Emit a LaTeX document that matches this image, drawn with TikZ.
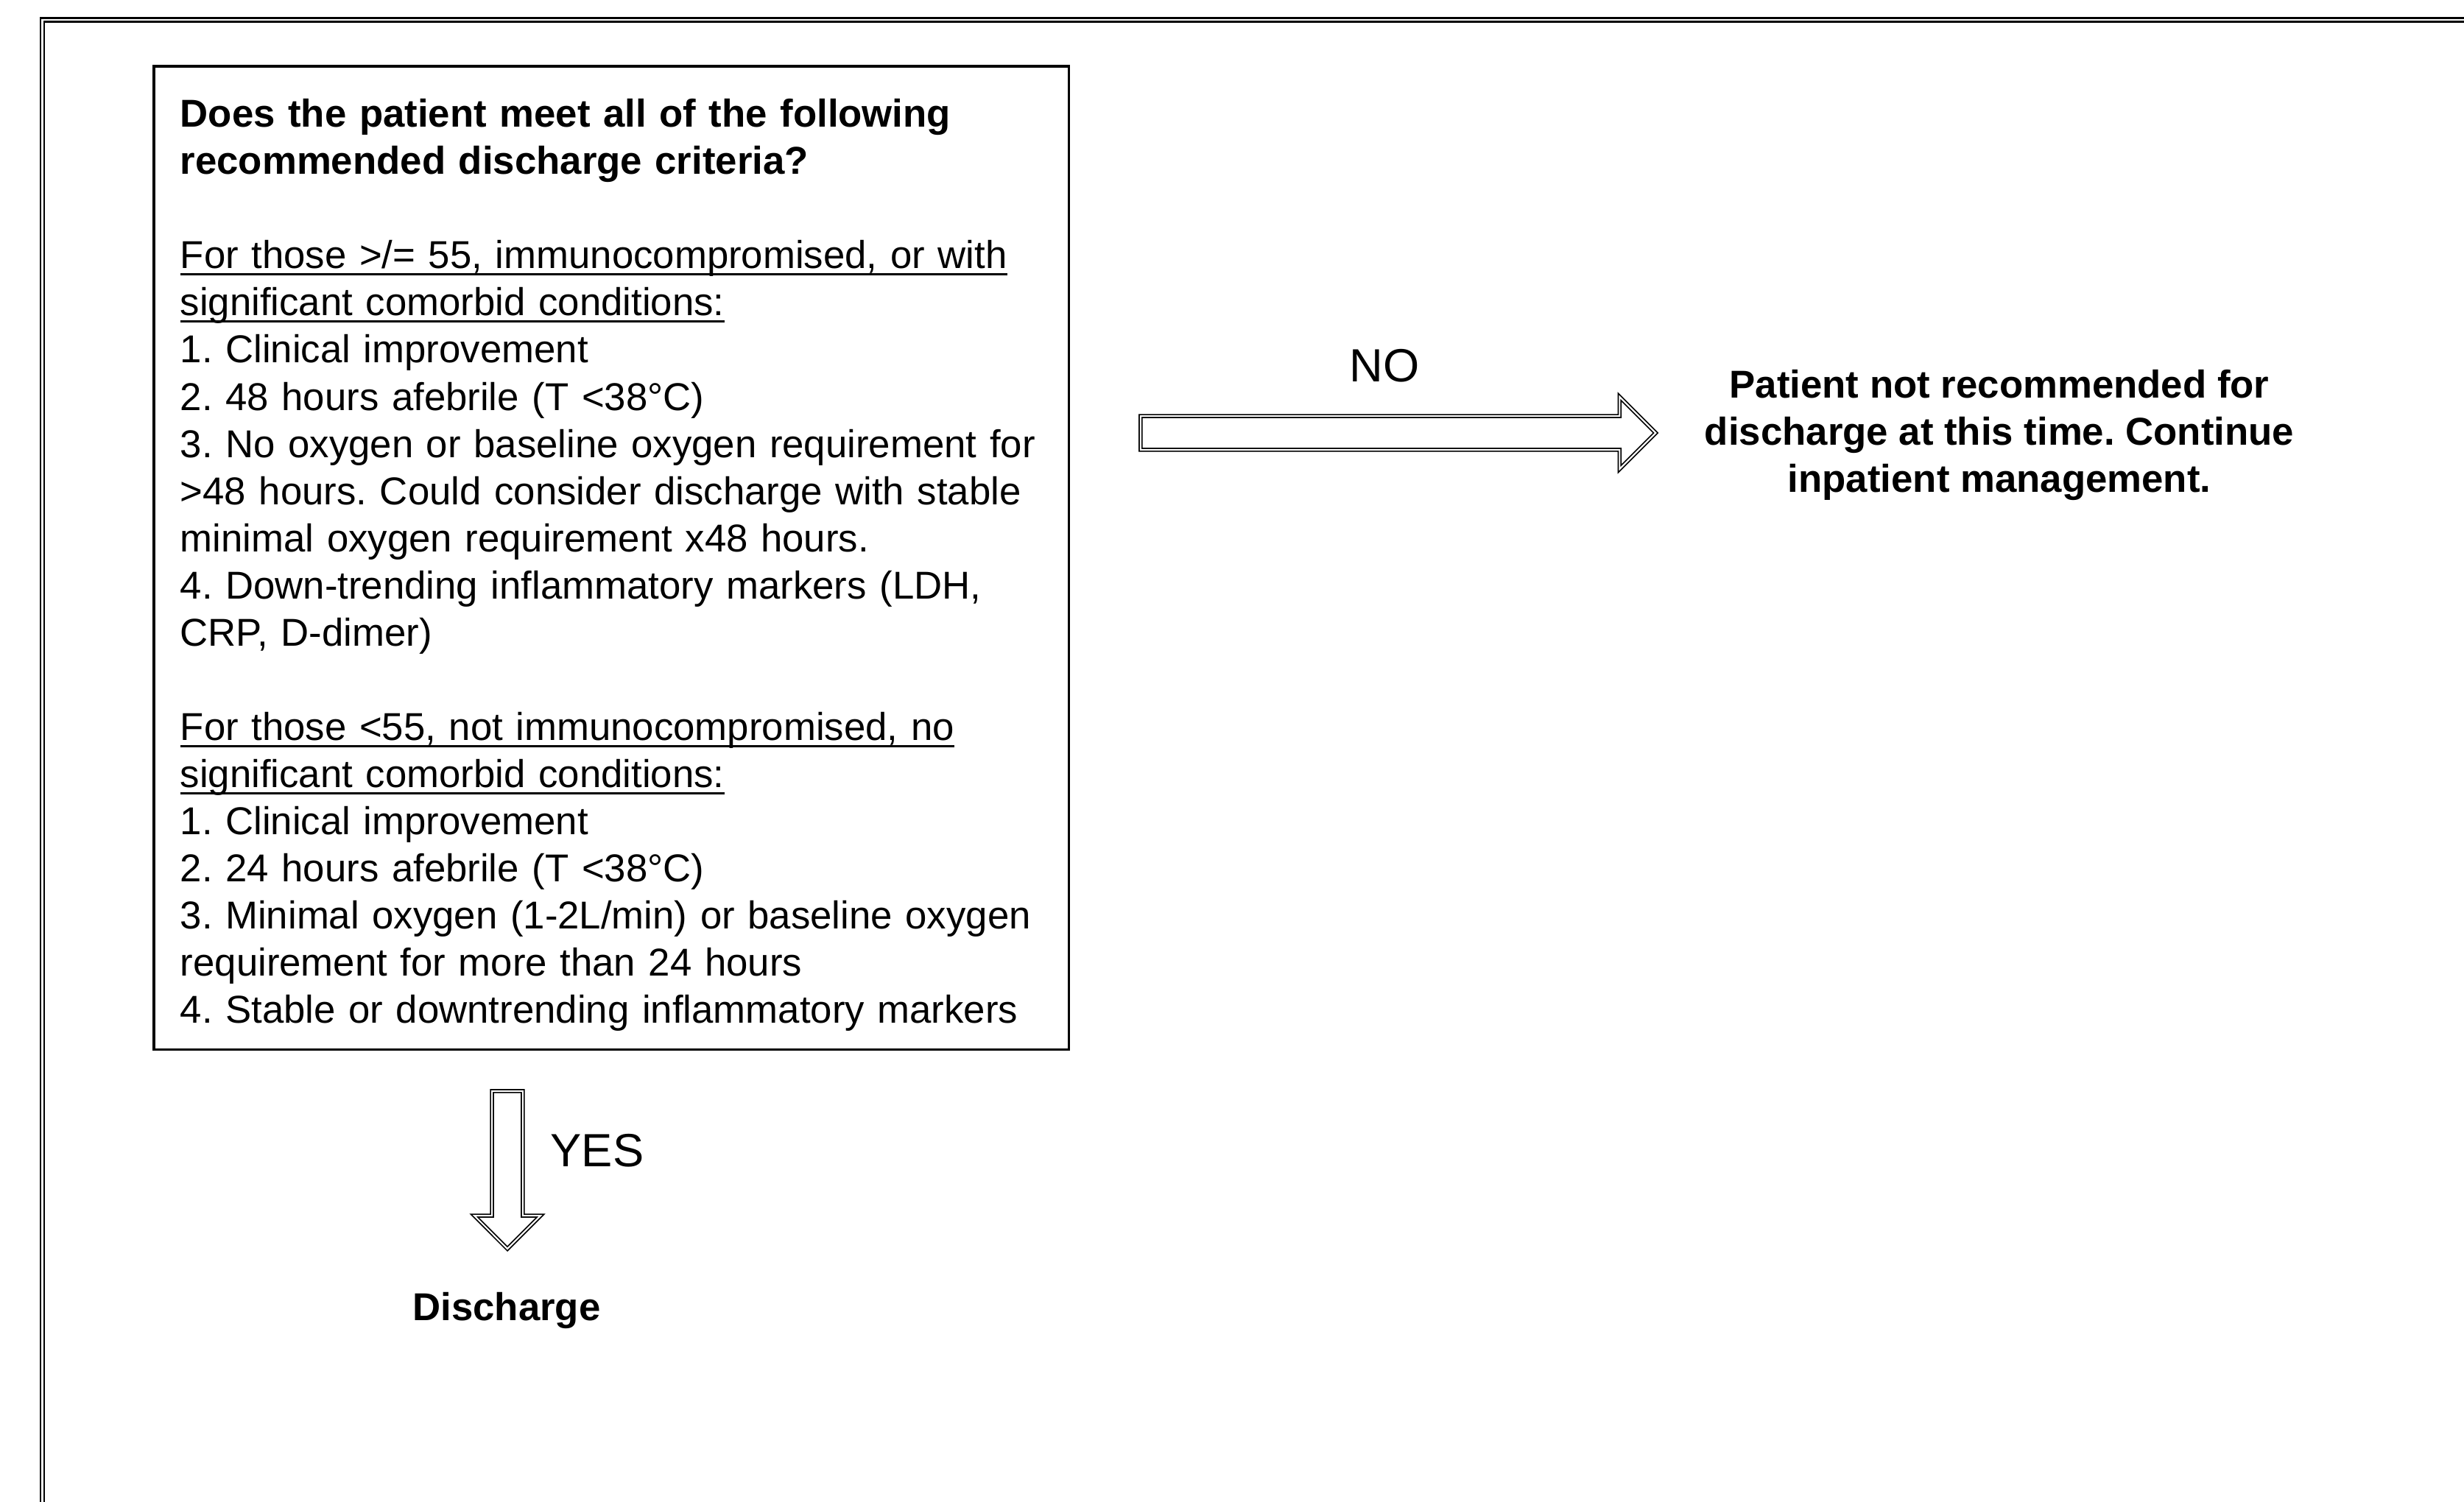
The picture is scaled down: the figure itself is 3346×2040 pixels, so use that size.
\documentclass[tikz,border=0pt]{standalone}
\usepackage{fontspec}
\setmainfont{Liberation Sans}
\usetikzlibrary{shapes.arrows}
\frenchspacing
\hyphenpenalty=10000
\newcommand{\undl}[1]{\leavevmode\setbox0\hbox{#1}\rlap{\rule[-2.7pt]{\wd0}{0.9pt}}\box0}

\begin{document}
\begin{tikzpicture}[x=0.01cm,y=-0.01cm,
  txt/.style={font=\fontsize{15pt}{18.21pt}\selectfont},
  boldtxt/.style={font=\fontsize{15pt}{18.21pt}\selectfont\bfseries, align=center},
  answer/.style={font=\fontsize{18pt}{21.6pt}\selectfont, inner sep=0pt},
  fatarrow/.style={shape=single arrow, draw, double, double distance=0.6pt, line width=0.5pt,
    single arrow tip angle=90, single arrow head indent=0pt, minimum width=0pt}]
\useasboundingbox (0,0) rectangle (3346,2040);
\clip (0,0) rectangle (3346,2040);
\draw[double, double distance=0.6pt, line width=0.7pt] (57.5,27) rectangle (3420,2120);
\node[txt, draw, line width=1pt, anchor=north west, text width=11.70cm, inner xsep=0.36cm, inner ysep=0.25cm, align=left] (crit) at (207,88) {\rule{0pt}{0.58cm}\textbf{Does the patient meet all of the following}\\
\textbf{recommended discharge criteria?}\\[0.64cm]
\undl{For those >/= 55, immunocompromised, or with}\\
\undl{significant comorbid conditions:}\\
1. Clinical improvement\\
2. 48 hours afebrile (T <38°C)\\
3. No oxygen or baseline oxygen requirement for\\
>48 hours. Could consider discharge with stable\\
minimal oxygen requirement x48 hours.\\
4. Down-trending inflammatory markers (LDH,\\
CRP, D-dimer)\\[0.64cm]
\undl{For those <55, not immunocompromised, no}\\
\undl{significant comorbid conditions:}\\
1. Clinical improvement\\
2. 24 hours afebrile (T <38°C)\\
3. Minimal oxygen (1-2L/min) or baseline oxygen\\
requirement for more than 24 hours\\
4. Stable or downtrending inflammatory markers};
\node[boldtxt] (notrec) at (2715,591) {Patient not recommended for\\discharge at this time. Continue\\inpatient management.};
\node[boldtxt] (dischg) at (688,1780) {Discharge};
\node[fatarrow, inner sep=0.22cm, minimum height=6.99cm, single arrow head extend=0.26cm, anchor=tail] (noarrow) at (1548,588) {};
\node[fatarrow, inner sep=0.20cm, minimum height=2.14cm, single arrow head extend=0.24cm, shape border rotate=270, anchor=tail] (yesarrow) at (689,1481) {};
\node[answer] (nolabel) at (1880,497) {NO};
\node[answer, anchor=west] (yeslabel) at (747,1563) {YES};
\end{tikzpicture}
\end{document}
